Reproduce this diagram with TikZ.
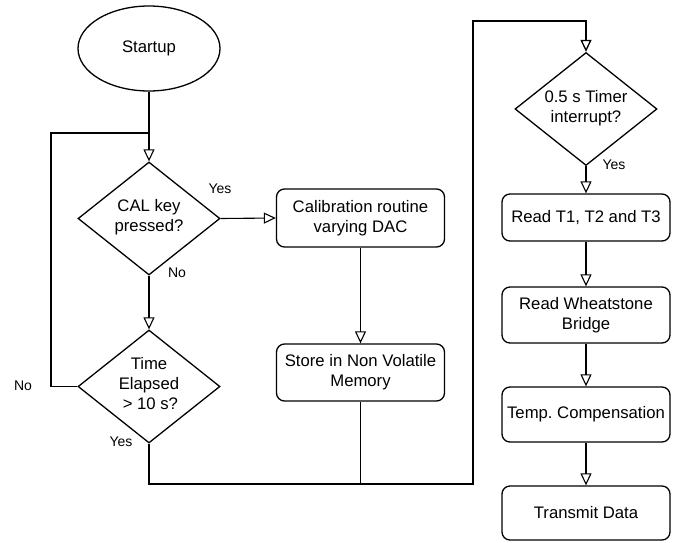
\documentclass[tikz,border=0pt]{standalone}
\usepackage{fontspec}
\setmainfont{Liberation Sans}
\usetikzlibrary{shapes.geometric,arrows.meta}
\frenchspacing
\begin{document}
\begin{tikzpicture}[x=1pt,y=-1pt,line width=1.3pt,
  mainf/.style={font=\fontsize{16.7}{20}\selectfont},
  box/.style={draw, rounded corners=8pt, minimum width=168pt, inner sep=0pt, align=center, mainf},
  dia/.style={draw, diamond, minimum width=142pt, minimum height=113pt, inner sep=0pt},
  txt/.style={align=center, inner sep=0pt, mainf},
  lbl/.style={inner sep=0pt, font=\fontsize{14}{16}\selectfont},
  conn/.style={line width=1.1pt},
  arr/.style={conn, -{Triangle[open,length=12pt,width=11pt]}}]
\useasboundingbox (0,0) rectangle (678,542);

% left column
\node[draw, ellipse, minimum width=142pt, minimum height=85pt, inner sep=0pt, mainf] (start) at (149,48.5) {Startup};
\node[dia] (d1) at (149,218.5) {};
\node[txt] (d1t) at (149,217) {CAL key\\pressed?};
\node[dia] (d2) at (149,386.5) {};
\node[txt] (d2t) at (149,384) {Time\\Elapsed\\ \,{>} 10 s?};

% middle column
\node[box, minimum height=58pt] (calib) at (360.5,218) {Calibration routine\\varying DAC};
\node[box, minimum height=57pt] (store) at (360.5,372.5) {Store in Non Volatile\\Memory};

% right column
\node[dia] (d3) at (586,109) {};
\node[txt] (d3t) at (586,108) {0.5 s Timer\\interrupt?};
\node[box, minimum height=47pt] (r1) at (586,217.5) {Read T1, T2 and T3};
\node[box, minimum height=56pt] (r2) at (586,315) {Read Wheatstone\\Bridge};
\node[box, minimum height=55pt] (r3) at (586,414.5) {Temp. Compensation};
\node[box, minimum height=54pt] (r4) at (586,513) {Transmit Data};

% coordinates
\coordinate (loopTop) at (149,133);
\coordinate (loopL) at (51,133);
\coordinate (bus) at (473,484);
\coordinate (top) at (473,21);

% connectors
\draw[arr] (start.south) -- (d1.north);
\draw[line width=1.4pt] (d2.west) -| (loopL) -- (loopTop);
\draw[arr] (d1.east) -- (calib.west);
\draw[arr] (d1.south) -- (d2.north);
\draw[arr] (calib.south) -- (store.north);
\draw[arr, line width=1.3pt] (d2.south) |- (bus) -- (top) -| (d3.north);
\draw[conn] (store.south) -- (store.south |- bus);
\draw[arr] (d3.south) -- (r1.north);
\draw[arr] (r1.south) -- (r2.north);
\draw[arr] (r2.south) -- (r3.north);
\draw[arr] (r3.south) -- (r4.north);

% labels
\node[lbl] (yes1) at (220,189) {Yes};
\node[lbl] (no1) at (177,273) {No};
\node[lbl] (no2) at (23,386) {No};
\node[lbl] (yes2) at (121,442) {Yes};
\node[lbl] (yes3) at (614,165) {Yes};
\end{tikzpicture}
\end{document}
